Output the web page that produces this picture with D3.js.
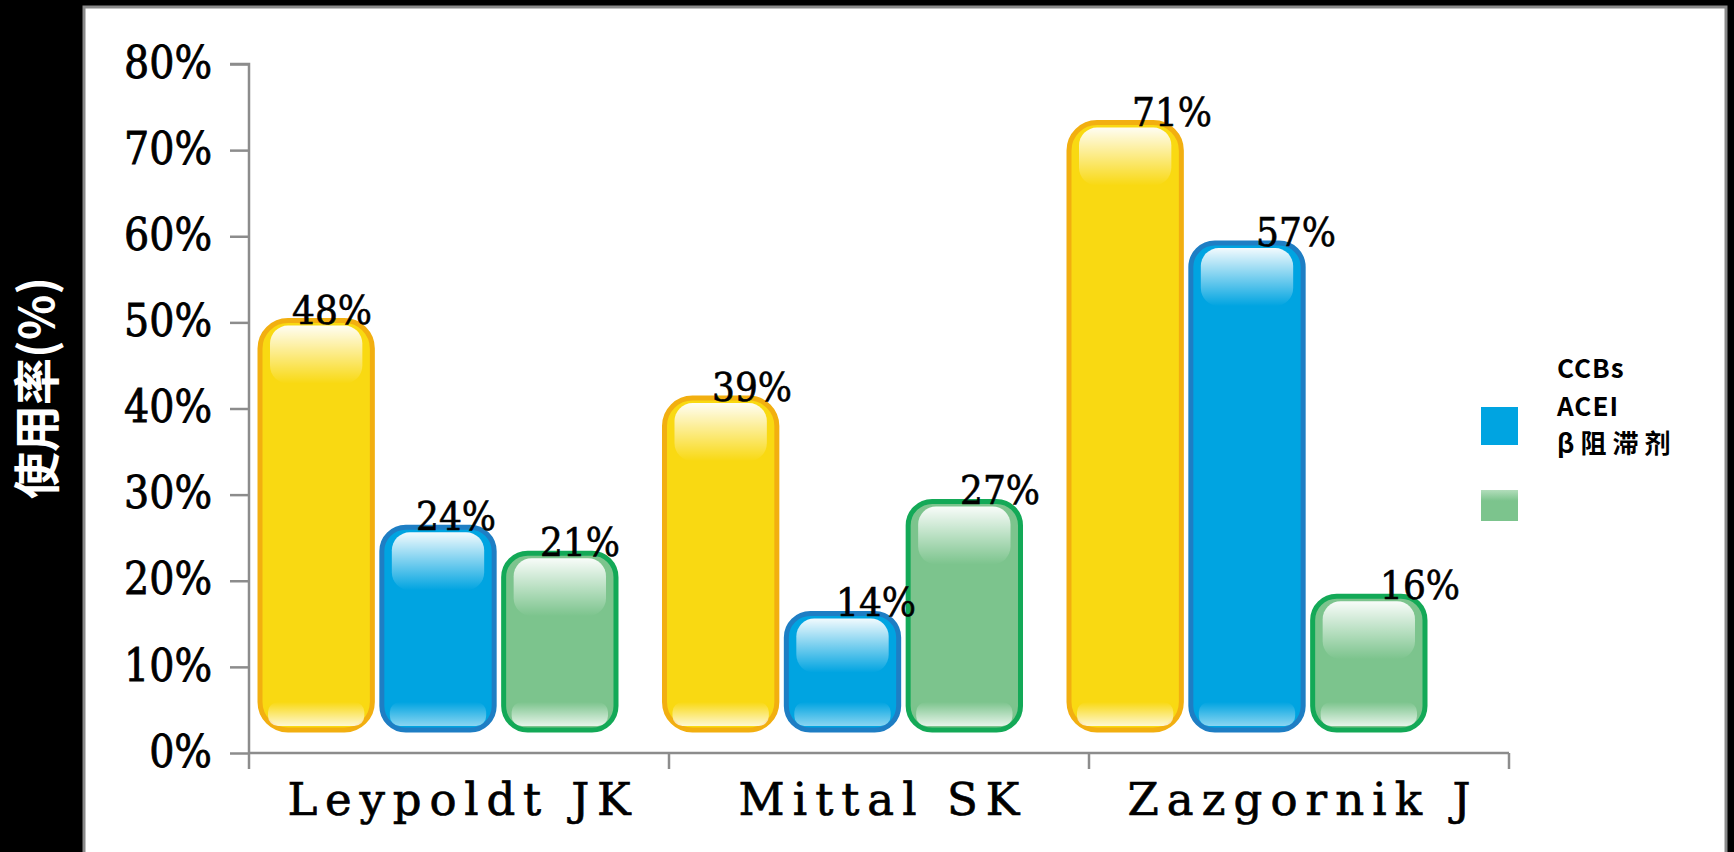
<!DOCTYPE html>
<html>
<head>
  <meta charset="utf-8">
  <style>
    body { margin: 0; background: #000; }
  </style>
  <title>使用率</title>
</head>
<body>
  <script src="https://cdn.jsdelivr.net/npm/d3@7"></script>
  <script>
    // data
    var categories = ["Leypoldt JK", "Mittal SK", "Zazgornik J"];
    var seriesNames = ["CCBs", "ACEI", "β阻滞剂"];
    var ccbs = [48, 39, 71];
    var acei = [24, 14, 57];
    var betaBlockers = [21, 27, 16];
    var yTicks = [0, 10, 20, 30, 40, 50, 60, 70, 80];
    var yTitle = "使用率(%)";

    var seriesValues = [ccbs, acei, betaBlockers];

    // look of each series: fill, border
    var styles = [
      { fill: "#F9D912", stroke: "#F2AF10", rx: 28 },
      { fill: "#00A4E1", stroke: "#1E7EC4", rx: 24 },
      { fill: "#7CC48D", stroke: "#13A957", rx: 24 }
    ];

    var serif = "'DejaVu Serif', serif";
    var sans = "'Noto Sans CJK SC', 'Noto Sans', sans-serif";

    var width = 1734;
    var height = 852;

    var svg = d3.select("body").append("svg")
      .attr("width", width)
      .attr("height", height)
      .style("display", "block");

    var defs = svg.append("defs");

    // gloss gradients
    var topGloss = defs.append("linearGradient")
      .attr("id", "topGloss").attr("x1", 0).attr("y1", 0).attr("x2", 0).attr("y2", 1);
    topGloss.append("stop").attr("offset", "0%").attr("stop-color", "#fff").attr("stop-opacity", 0.95);
    topGloss.append("stop").attr("offset", "100%").attr("stop-color", "#fff").attr("stop-opacity", 0);

    var bottomGloss = defs.append("linearGradient")
      .attr("id", "bottomGloss").attr("x1", 0).attr("y1", 0).attr("x2", 0).attr("y2", 1);
    bottomGloss.append("stop").attr("offset", "0%").attr("stop-color", "#fff").attr("stop-opacity", 0);
    bottomGloss.append("stop").attr("offset", "100%").attr("stop-color", "#fff").attr("stop-opacity", 0.9);

    var greenKey = defs.append("linearGradient")
      .attr("id", "greenKey").attr("x1", 0).attr("y1", 0).attr("x2", 0).attr("y2", 1);
    greenKey.append("stop").attr("offset", "0%").attr("stop-color", "#B2DDBB");
    greenKey.append("stop").attr("offset", "35%").attr("stop-color", "#7CC48D");

    // white panel
    svg.append("rect")
      .attr("x", 84).attr("y", 7)
      .attr("width", 1642).attr("height", 860)
      .attr("fill", "#fff")
      .attr("stroke", "#8a8a8a")
      .attr("stroke-width", 3);

    // scales
    var y = d3.scaleLinear().domain([0, 80]).range([753, 64]);
    var x0 = d3.scaleBand().domain(categories).range([249, 1509]);
    // bars sit a little off the axis bands in the original
    var xBar = d3.scaleBand().domain(categories).range([258, 258 + 404.5 * 3]);
    var x1 = d3.scaleBand().domain(seriesNames).range([0, 360]).paddingInner(0.045);
    var xLabel = d3.scaleBand().domain(seriesNames).range([21, 393]);
    var lift = 21;

    // y axis
    var yAxis = d3.axisLeft(y).tickValues(yTicks)
      .tickFormat(function(d) { return d + "%"; })
      .tickSize(19).tickPadding(18);
    var gy = svg.append("g")
      .attr("transform", "translate(249,0)")
      .call(yAxis);
    gy.select(".domain").attr("stroke", "#8c8c8c").attr("stroke-width", 2.5)
      .attr("d", "M-19," + y(80) + "H0V" + y(0));
    gy.selectAll(".tick line").attr("stroke", "#8c8c8c").attr("stroke-width", 2.5);
    gy.selectAll(".tick text")
      .style("font-family", serif)
      .style("font-stretch", "condensed")
      .attr("font-size", 44)
      .attr("fill", "#000")
      .attr("stroke", "#000")
      .attr("stroke-width", 0.8)
      .attr("dy", "0.3em");

    // x axis
    var xAxis = d3.axisBottom(x0).tickSize(0).tickPadding(0);
    var gx = svg.append("g")
      .attr("transform", "translate(0," + y(0) + ")")
      .call(xAxis);
    gx.select(".domain").attr("stroke", "#8c8c8c").attr("stroke-width", 2.5)
      .attr("d", "M" + x0.range()[0] + ",0H" + x0.range()[1]);
    gx.selectAll(".tick text")
      .style("font-family", serif)
      .attr("font-size", 45)
      .attr("fill", "#000")
      .attr("stroke", "#000")
      .attr("stroke-width", 0.7)
      .attr("y", 62)
      .attr("dy", 0)
      .attr("textLength", function(d) { return d.length * 31.2; })
      .attr("lengthAdjust", "spacing");

    // separator ticks at band edges
    var edges = categories.map(function(c) { return x0(c); }).concat([x0.range()[1]]);
    gx.selectAll(".edge")
      .data(edges)
      .enter().append("line")
      .attr("class", "edge")
      .attr("x1", function(d) { return d; })
      .attr("x2", function(d) { return d; })
      .attr("y1", 0).attr("y2", 16)
      .attr("stroke", "#8c8c8c").attr("stroke-width", 2.5);

    // y title
    svg.append("text")
      .attr("transform", "translate(54,388) rotate(-90)")
      .attr("text-anchor", "middle")
      .style("font-family", sans)
      .attr("font-weight", "bold")
      .attr("font-size", 47)
      .attr("fill", "#fff")
      .text(yTitle);

    // bars
    var bars = [];
    seriesNames.forEach(function(s, j) {
      categories.forEach(function(c, i) {
        bars.push({ cat: c, series: s, j: j, value: seriesValues[j][i] });
      });
    });

    var bar = svg.selectAll(".bar")
      .data(bars)
      .enter().append("g")
      .attr("class", "bar")
      .attr("transform", function(d) {
        return "translate(" + (xBar(d.cat) + x1(d.series)) + "," + (y(d.value) - lift) + ")";
      });

    bar.append("rect")
      .attr("x", 2).attr("y", 2)
      .attr("width", x1.bandwidth() - 4)
      .attr("height", function(d) { return y(0) - y(d.value) - 4; })
      .attr("rx", function(d) { return styles[d.j].rx; })
      .attr("fill", function(d) { return styles[d.j].fill; })
      .attr("stroke", function(d) { return styles[d.j].stroke; })
      .attr("stroke-width", 5);

    // top shine
    bar.append("rect")
      .attr("x", 12).attr("y", 7)
      .attr("width", x1.bandwidth() - 24)
      .attr("height", function(d) { return Math.min(58, (y(0) - y(d.value)) * 0.45); })
      .attr("rx", 18)
      .attr("fill", "url(#topGloss)");

    // bottom shine
    bar.append("rect")
      .attr("x", 10)
      .attr("y", function(d) { return y(0) - y(d.value) - 30; })
      .attr("width", x1.bandwidth() - 20)
      .attr("height", 24)
      .attr("rx", 10)
      .attr("fill", "url(#bottomGloss)")
      .attr("opacity", function(d) { return d.j === 1 ? 0.6 : 0.9; });

    // value labels
    svg.selectAll(".val")
      .data(bars)
      .enter().append("text")
      .attr("class", "val")
      .attr("x", function(d) { return x0(d.cat) + xLabel(d.series) + xLabel.bandwidth() / 2; })
      .attr("y", function(d) { return y(d.value) - 16; })
      .attr("text-anchor", "middle")
      .style("font-family", serif)
      .style("font-stretch", "condensed")
      .attr("font-size", 40)
      .attr("fill", "#000")
      .attr("stroke", "#000")
      .attr("stroke-width", 0.6)
      .text(function(d) { return d.value + "%"; });

    // legend (the first key box is blank in the original)
    var legend = svg.append("g");
    legend.selectAll(".key")
      .data(seriesNames.slice(1))
      .enter().append("rect")
      .attr("class", "key")
      .attr("x", 1481)
      .attr("y", function(d, i) { return i === 0 ? 407 : 490; })
      .attr("width", 37)
      .attr("height", function(d, i) { return i === 0 ? 38 : 31; })
      .attr("fill", function(d, i) { return i === 0 ? styles[1].fill : "url(#greenKey)"; });

    legend.selectAll(".name")
      .data(seriesNames)
      .enter().append("text")
      .attr("class", "name")
      .attr("x", 1557)
      .attr("y", function(d, i) { return 378 + i * 37.5; })
      .style("font-family", sans)
      .style("letter-spacing", function(d) { return /[^\x00-\x7f]/.test(d) ? "6px" : "1px"; })
      .attr("font-weight", "bold")
      .attr("font-size", 26)
      .attr("fill", "#000")
      .text(function(d) { return d; });
  </script>
</body>
</html>
